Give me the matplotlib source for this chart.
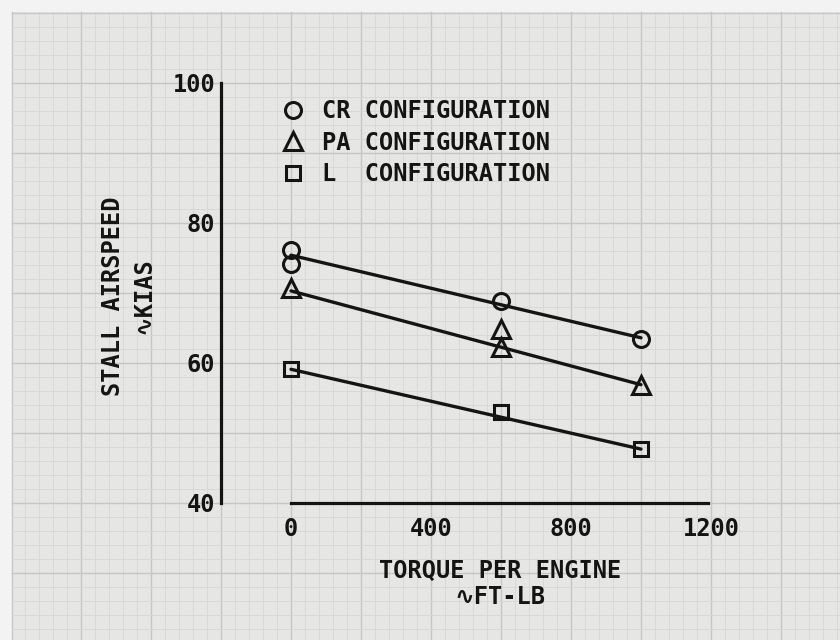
import numpy as np
import matplotlib
matplotlib.use("Agg")
import matplotlib.pyplot as plt
from matplotlib.patches import Rectangle

# dados (torque em ft-lb, velocidade de estol em KIAS)
cr_torque = [0, 0, 600, 1000]
cr_kias = [76.2, 74.1, 68.8, 63.5]
pa_torque = [0, 600, 600, 1000]
pa_kias = [70.7, 64.8, 62.3, 56.9]
l_torque = [0, 600, 1000]
l_kias = [59.1, 53.0, 47.7]

# retas tracadas a mao no original
reta_torque = [0, 1000]
cr_reta = [75.4, 63.6]
pa_reta = [70.3, 56.9]
l_reta = [59.1, 47.7]

x_ticks = [0, 400, 800, 1200]
y_ticks = [40, 60, 80, 100]

tinta = "#141414"
papel = "#e6e6e4"
fonte = ["DejaVu Sans Mono", "DejaVu Sans"]

fig = plt.figure(figsize=(8.4, 6.4), dpi=100, facecolor="#f3f3f3")

# papel milimetrado ao fundo
bg = fig.add_axes([0, 0, 1, 1], zorder=0)
bg.set_xlim(0, 840)
bg.set_ylim(640, 0)
bg.axis("off")
bg.add_patch(Rectangle((12, 12), 828, 628, facecolor=papel, edgecolor="none"))
for xv in np.arange(11, 840, 14):
    major = (xv - 11) % 70 == 0
    bg.plot([max(xv, 12)] * 2, [12, 640], color="#c6c6c4" if major else "#d6d6d4",
            lw=1.0 if major else 0.6, zorder=1)
for yv in np.arange(13, 640, 14):
    major = (yv - 13) % 70 == 0
    bg.plot([12, 840], [yv, yv], color="#c6c6c4" if major else "#d6d6d4",
            lw=1.0 if major else 0.6, zorder=1)

ax = fig.add_axes([221 / 840, 137 / 640, 490 / 840, 420 / 640], zorder=2)
ax.patch.set_alpha(0)
ax.set_xlim(-200, 1200)
ax.set_ylim(40, 100)

# retas
for yy in (cr_reta, pa_reta, l_reta):
    ax.plot(reta_torque, yy, color=tinta, lw=2.4, solid_capstyle="round")

estilo = dict(linestyle="none", markerfacecolor="none", markeredgecolor=tinta,
              markeredgewidth=2.2)
ax.plot(cr_torque, cr_kias, marker="o", markersize=11.5, label="CR CONFIGURATION", **estilo)
ax.plot(pa_torque, pa_kias, marker="^", markersize=12.5, label="PA CONFIGURATION", **estilo)
ax.plot(l_torque, l_kias, marker="s", markersize=10, label="L  CONFIGURATION", **estilo)

for s in ("top", "right"):
    ax.spines[s].set_visible(False)
ax.spines["left"].set_bounds(40, 100)
ax.spines["bottom"].set_bounds(0, 1190)
for s in ("left", "bottom"):
    ax.spines[s].set_linewidth(2.3)
    ax.spines[s].set_color(tinta)

ax.set_xticks(x_ticks)
ax.set_yticks(y_ticks)
ax.tick_params(axis="both", length=0, colors=tinta, labelsize=17)
ax.tick_params(axis="y", pad=4)
ax.tick_params(axis="x", pad=10)
for t in ax.get_xticklabels() + ax.get_yticklabels():
    t.set_family(fonte)
    t.set_fontweight("bold")

ax.set_xlabel("TORQUE PER ENGINE\n\u223fFT-LB", family=fonte, fontsize=17,
              fontweight="bold", color=tinta, linespacing=1.15,
              ha="center", va="center")
ax.xaxis.set_label_coords(0.569, -0.193)
ax.set_ylabel("STALL AIRSPEED\n\u223fKIAS", family=fonte, fontsize=17,
              fontweight="bold", color=tinta, linespacing=1.35,
              ha="center", va="center")
ax.yaxis.set_label_coords(-0.19, 0.493)

leg = ax.legend(loc="upper left", bbox_to_anchor=(0.122, 0.962), frameon=False,
                prop={"family": fonte, "size": 17, "weight": "bold"},
                handlelength=1.0, handletextpad=0.75, labelspacing=0.32,
                borderpad=0, borderaxespad=0)
for t in leg.get_texts():
    t.set_color(tinta)

plt.savefig("out.png", dpi=100, facecolor=fig.get_facecolor())
